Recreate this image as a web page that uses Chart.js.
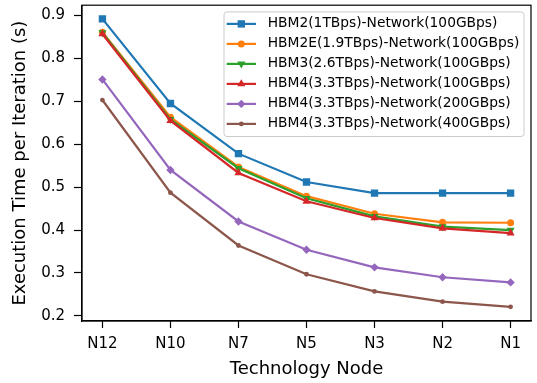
<!DOCTYPE html>
<html><head><meta charset="utf-8">
<script src="https://cdn.jsdelivr.net/npm/chart.js@4/dist/chart.umd.min.js"></script>
<style>html,body{margin:0;padding:0;background:#fff;}</style>
</head><body>
<div style="width:537px;height:383px"><canvas id="c" width="537" height="383"></canvas></div>
<script>
// ---- data ----
const categories = ['N12', 'N10', 'N7', 'N5', 'N3', 'N2', 'N1'];
const seriesNames = [
  'HBM2(1TBps)-Network(100GBps)',
  'HBM2E(1.9TBps)-Network(100GBps)',
  'HBM3(2.6TBps)-Network(100GBps)',
  'HBM4(3.3TBps)-Network(100GBps)',
  'HBM4(3.3TBps)-Network(200GBps)',
  'HBM4(3.3TBps)-Network(400GBps)'
];
const hbm2_net100  = [0.892, 0.695, 0.578, 0.512, 0.486, 0.486, 0.486];
const hbm2e_net100 = [0.861, 0.663, 0.547, 0.479, 0.438, 0.418, 0.417];
const hbm3_net100  = [0.860, 0.658, 0.544, 0.474, 0.432, 0.408, 0.400];
const hbm4_net100  = [0.857, 0.655, 0.533, 0.467, 0.428, 0.404, 0.393];
const hbm4_net200  = [0.751, 0.540, 0.420, 0.354, 0.313, 0.290, 0.278];
const hbm4_net400  = [0.703, 0.487, 0.364, 0.297, 0.257, 0.233, 0.221];
const yTickValues = [0.2, 0.3, 0.4, 0.5, 0.6, 0.7, 0.8, 0.9];
const xTitle = 'Technology Node';
const yTitle = 'Execution Time per Iteration (s)';

// ---- styles ----
const FONT = 'DejaVu Sans';
const colors = ['#1f77b4', '#ff7f0e', '#2ca02c', '#d62728', '#9467bd', '#8c564b'];
const markers = [
  {style: 'rect', r: 5.2, rot: 0},
  {style: 'circle', r: 3.5, rot: 0},
  {style: 'triangle', r: 4.7, rot: 180},
  {style: 'triangle', r: 4.7, rot: 0},
  {style: 'rectRot', r: 4.2, rot: 0},
  {style: 'circle', r: 2.4, rot: 0}
];

const allSeries = [hbm2_net100, hbm2e_net100, hbm3_net100, hbm4_net100, hbm4_net200, hbm4_net400];

const datasets = allSeries.map((vals, i) => ({
  label: seriesNames[i],
  data: vals.map((v, k) => ({x: k, y: v})),
  borderColor: colors[i],
  backgroundColor: colors[i],
  borderWidth: 2.2,
  pointStyle: markers[i].style,
  pointRadius: markers[i].r,
  pointRotation: markers[i].rot,
  pointBorderWidth: 0,
  pointBackgroundColor: colors[i],
  tension: 0,
  order: allSeries.length - i
}));

function drawMarker(ctx, m, x, y, color) {
  const r = m.r;
  ctx.save();
  ctx.fillStyle = color;
  ctx.beginPath();
  if (m.style === 'rect') {
    const s = Math.SQRT1_2 * r;
    ctx.rect(x - s, y - s, 2 * s, 2 * s);
  } else if (m.style === 'circle') {
    ctx.arc(x, y, r, 0, Math.PI * 2);
  } else if (m.style === 'triangle') {
    let rad = m.rot * Math.PI / 180;
    for (let k = 0; k < 3; k++) {
      const px = x + Math.sin(rad) * r, py = y - Math.cos(rad) * r;
      if (k === 0) ctx.moveTo(px, py); else ctx.lineTo(px, py);
      rad += 2 * Math.PI / 3;
    }
    ctx.closePath();
  } else if (m.style === 'rectRot') {
    ctx.moveTo(x - r, y); ctx.lineTo(x, y - r); ctx.lineTo(x + r, y); ctx.lineTo(x, y + r);
    ctx.closePath();
  }
  ctx.fill();
  ctx.restore();
}

const framePlugin = {
  id: 'frameAndLegend',
  afterDraw(chart) {
    const ctx = chart.ctx;
    const a = chart.chartArea;
    ctx.save();
    ctx.strokeStyle = '#000';
    ctx.lineWidth = 1.2;
    ctx.strokeRect(a.left, a.top, a.right - a.left, a.bottom - a.top);

    // legend box
    const bw = 300, bh = 124.6;
    const bx = a.right - 7 - bw, by = a.top + 6.7;
    const rr = 3;
    ctx.beginPath();
    ctx.moveTo(bx + rr, by);
    ctx.lineTo(bx + bw - rr, by);
    ctx.quadraticCurveTo(bx + bw, by, bx + bw, by + rr);
    ctx.lineTo(bx + bw, by + bh - rr);
    ctx.quadraticCurveTo(bx + bw, by + bh, bx + bw - rr, by + bh);
    ctx.lineTo(bx + rr, by + bh);
    ctx.quadraticCurveTo(bx, by + bh, bx, by + bh - rr);
    ctx.lineTo(bx, by + rr);
    ctx.quadraticCurveTo(bx, by, bx + rr, by);
    ctx.closePath();
    ctx.fillStyle = 'rgba(255,255,255,0.8)';
    ctx.fill();
    ctx.strokeStyle = '#cccccc';
    ctx.lineWidth = 1;
    ctx.stroke();

    ctx.font = '13.8px "' + FONT + '"';
    ctx.textBaseline = 'middle';
    ctx.textAlign = 'left';
    seriesNames.forEach((name, i) => {
      const y = by + 12 + i * 20;
      ctx.strokeStyle = colors[i];
      ctx.lineWidth = 2.2;
      ctx.beginPath();
      ctx.moveTo(bx + 2.7, y);
      ctx.lineTo(bx + 32, y);
      ctx.stroke();
      drawMarker(ctx, markers[i], bx + 17.3, y, colors[i]);
      ctx.fillStyle = '#000';
      ctx.fillText(name, bx + 43.7, y);
    });
    ctx.restore();
  }
};

new Chart(document.getElementById('c'), {
  type: 'line',
  data: {datasets},
  options: {
    responsive: false,
    animation: false,
    devicePixelRatio: 1,
    layout: {padding: {top: 3, right: 6, left: 0, bottom: 0}},
    plugins: {legend: {display: false}, tooltip: {enabled: false}},
    scales: {
      x: {
        type: 'linear',
        min: -0.3,
        max: 6.3,
        afterBuildTicks: s => { s.ticks = categories.map((c, i) => ({value: i})); },
        afterFit: s => { s.height = 62; s.paddingLeft = 0; s.paddingRight = 0; },
        ticks: {
          callback: v => categories[v],
          color: '#000',
          font: {family: FONT, size: 15},
          padding: 7,
          maxRotation: 0,
          autoSkip: false
        },
        grid: {drawOnChartArea: false, drawTicks: true, tickLength: 7, color: '#000', tickWidth: 1.2},
        border: {display: true, color: '#000', width: 1.2},
        title: {display: true, text: xTitle, color: '#000', font: {family: FONT, size: 18}, padding: {top: 0, bottom: 2.4}}
      },
      y: {
        type: 'linear',
        min: 0.188,
        max: 0.924,
        afterBuildTicks: s => { s.ticks = yTickValues.map(v => ({value: v})); },
        afterFit: s => { s.width = 82; s.paddingTop = 0; s.paddingBottom = 0; },
        ticks: {
          callback: v => v.toFixed(1),
          color: '#000',
          font: {family: FONT, size: 15},
          padding: 9
        },
        grid: {drawOnChartArea: false, drawTicks: true, tickLength: 8, color: '#000', tickWidth: 1.2},
        border: {display: true, color: '#000', width: 1.2},
        title: {display: true, text: yTitle, color: '#000', font: {family: FONT, size: 18}, padding: {top: 9.4, bottom: 0}}
      }
    }
  },
  plugins: [framePlugin]
});
</script>
</body></html>
